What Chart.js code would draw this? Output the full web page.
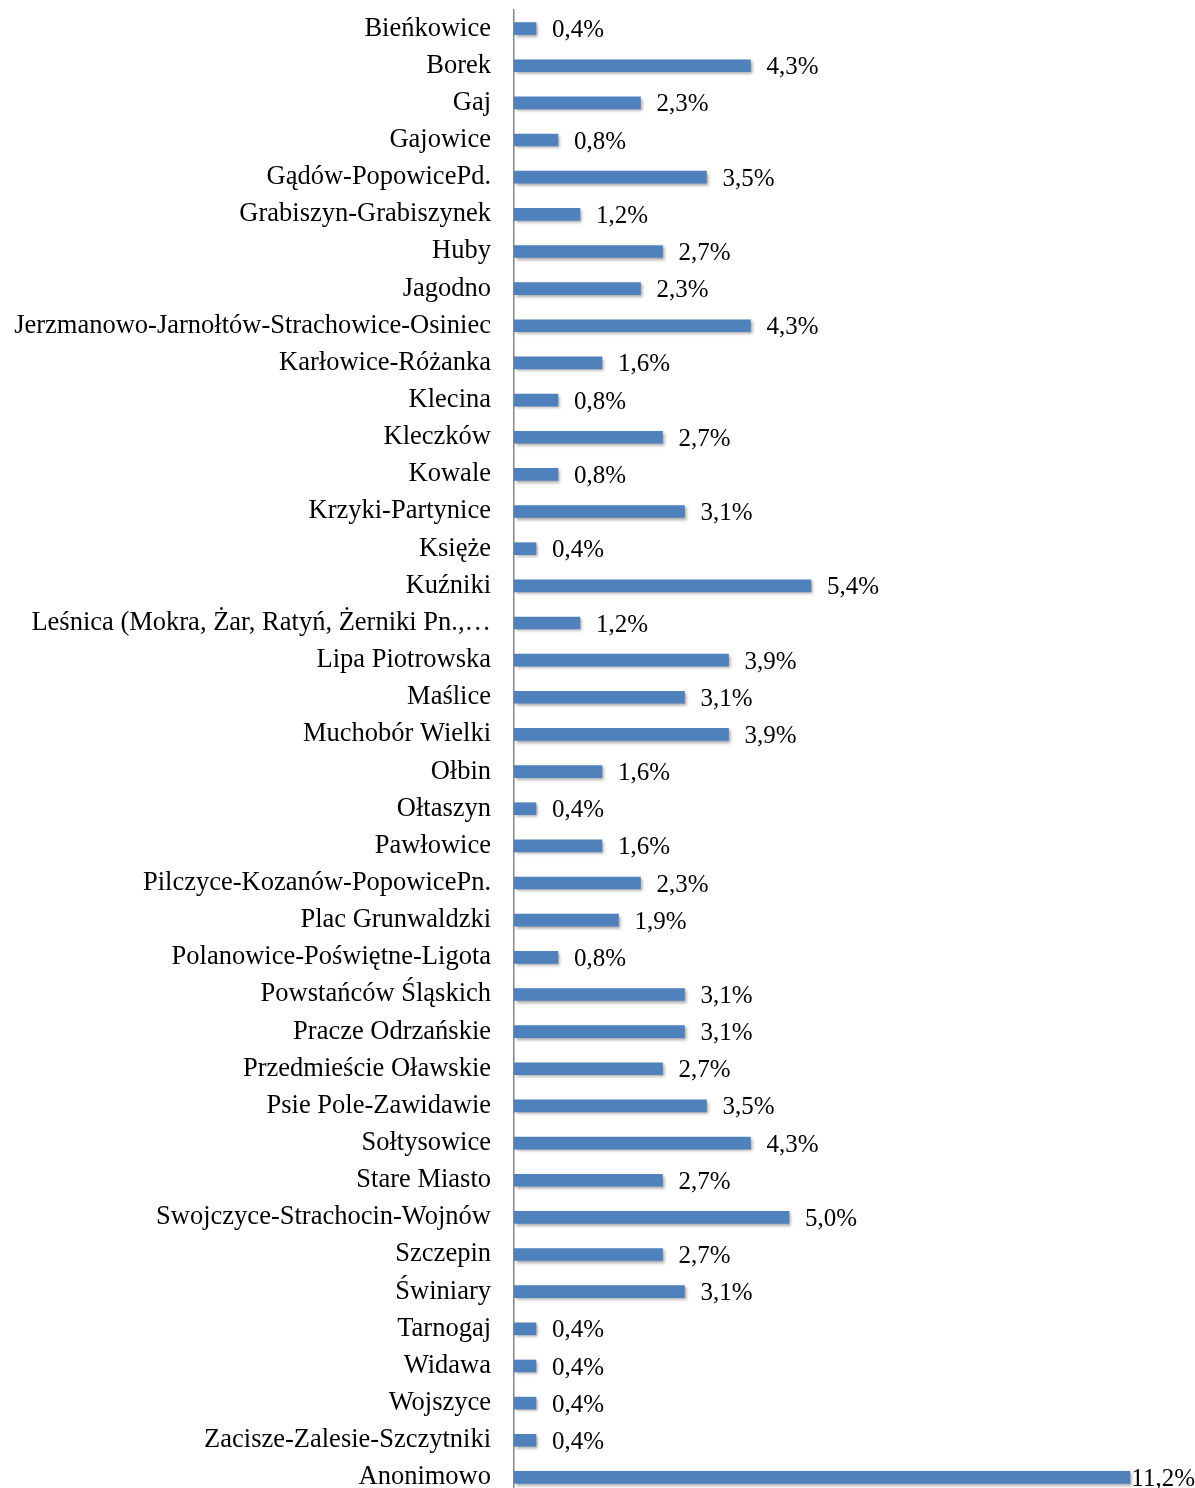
<!DOCTYPE html>
<html>
<head>
<meta charset="utf-8">
<script src="https://cdn.jsdelivr.net/npm/chart.js@4.4.1/dist/chart.umd.min.js"></script>
<style>
    html, body { margin: 0; padding: 0; background: #fff; overflow: hidden; }
    #wrap { width: 1195px; height: 1500px; position: relative; }
</style>
</head>
<body>
<div id="wrap"><canvas id="myChart"></canvas></div>
<script>
const osiedla = [
    'Bieńkowice', 'Borek', 'Gaj', 'Gajowice', 'Gądów-PopowicePd.', 'Grabiszyn-Grabiszynek',
    'Huby', 'Jagodno', 'Jerzmanowo-Jarnołtów-Strachowice-Osiniec', 'Karłowice-Różanka',
    'Klecina', 'Kleczków', 'Kowale', 'Krzyki-Partynice', 'Księże', 'Kuźniki',
    'Leśnica (Mokra, Żar, Ratyń, Żerniki Pn.,…', 'Lipa Piotrowska', 'Maślice', 'Muchobór Wielki',
    'Ołbin', 'Ołtaszyn', 'Pawłowice', 'Pilczyce-Kozanów-PopowicePn.', 'Plac Grunwaldzki',
    'Polanowice-Poświętne-Ligota', 'Powstańców Śląskich', 'Pracze Odrzańskie',
    'Przedmieście Oławskie', 'Psie Pole-Zawidawie', 'Sołtysowice', 'Stare Miasto',
    'Swojczyce-Strachocin-Wojnów', 'Szczepin', 'Świniary', 'Tarnogaj', 'Widawa', 'Wojszyce',
    'Zacisze-Zalesie-Szczytniki', 'Anonimowo'
];

const procenty = [
    0.4, 4.3, 2.3, 0.8, 3.5, 1.2,
    2.7, 2.3, 4.3, 1.6,
    0.8, 2.7, 0.8, 3.1, 0.4, 5.4,
    1.2, 3.9, 3.1, 3.9,
    1.6, 0.4, 1.6, 2.3, 1.9,
    0.8, 3.1, 3.1,
    2.7, 3.5, 4.3, 2.7,
    5.0, 2.7, 3.1, 0.4, 0.4, 0.4,
    0.4, 11.2
];

const fontSerif = '"Liberation Serif", "Times New Roman", serif';

// cien pod slupkami jak w Excelu
const cienPlugin = {
    id: 'cien',
    beforeDatasetsDraw(chart) {
        const ctx = chart.ctx;
        ctx.save();
        ctx.shadowColor = 'rgba(0, 0, 0, 0.35)';
        ctx.shadowOffsetX = 2;
        ctx.shadowOffsetY = 2;
        ctx.shadowBlur = 3;
    },
    afterDatasetsDraw(chart) {
        chart.ctx.restore();
    }
};

// etykiety wartosci
const etykietyPlugin = {
    id: 'etykiety',
    afterDatasetsDraw(chart) {
        const ctx = chart.ctx;
        const meta = chart.getDatasetMeta(0);
        ctx.save();
        ctx.font = '25px ' + fontSerif;
        ctx.fillStyle = '#000';
        ctx.textBaseline = 'middle';
        ctx.textAlign = 'left';
        meta.data.forEach((bar, i) => {
            const txt = procenty[i].toFixed(1).replace('.', ',') + '%';
            const w = ctx.measureText(txt).width;
            let x = bar.x + 16;
            if (x + w > chart.width) x = chart.width - w;
            ctx.fillText(txt, x, bar.y + 2);
        });
        ctx.restore();
    }
};

const ctx = document.getElementById('myChart').getContext('2d');
new Chart(ctx, {
    type: 'bar',
    data: {
        labels: osiedla,
        datasets: [{
            data: procenty,
            backgroundColor: '#4F81BD',
            borderWidth: 0,
            barThickness: 12
        }]
    },
    options: {
        indexAxis: 'y',
        responsive: true,
        maintainAspectRatio: false,
        animation: false,
        layout: { padding: { top: 10, bottom: 4, right: 21, left: 0 } },
        plugins: {
            legend: { display: false },
            tooltip: { enabled: false }
        },
        scales: {
            x: {
                min: 0,
                max: 12,
                display: false
            },
            y: {
                grid: { display: false },
                border: { display: true, color: '#868686', width: 1.5 },
                ticks: {
                    color: '#000',
                    padding: 15,
                    autoSkip: false,
                    font: { family: fontSerif, size: 26.5 }
                },
                afterFit(scale) {
                    scale.width = 514;
                    scale.paddingTop = 0;
                    scale.paddingBottom = 0;
                }
            }
        }
    },
    plugins: [cienPlugin, etykietyPlugin]
});
</script>
</body>
</html>
